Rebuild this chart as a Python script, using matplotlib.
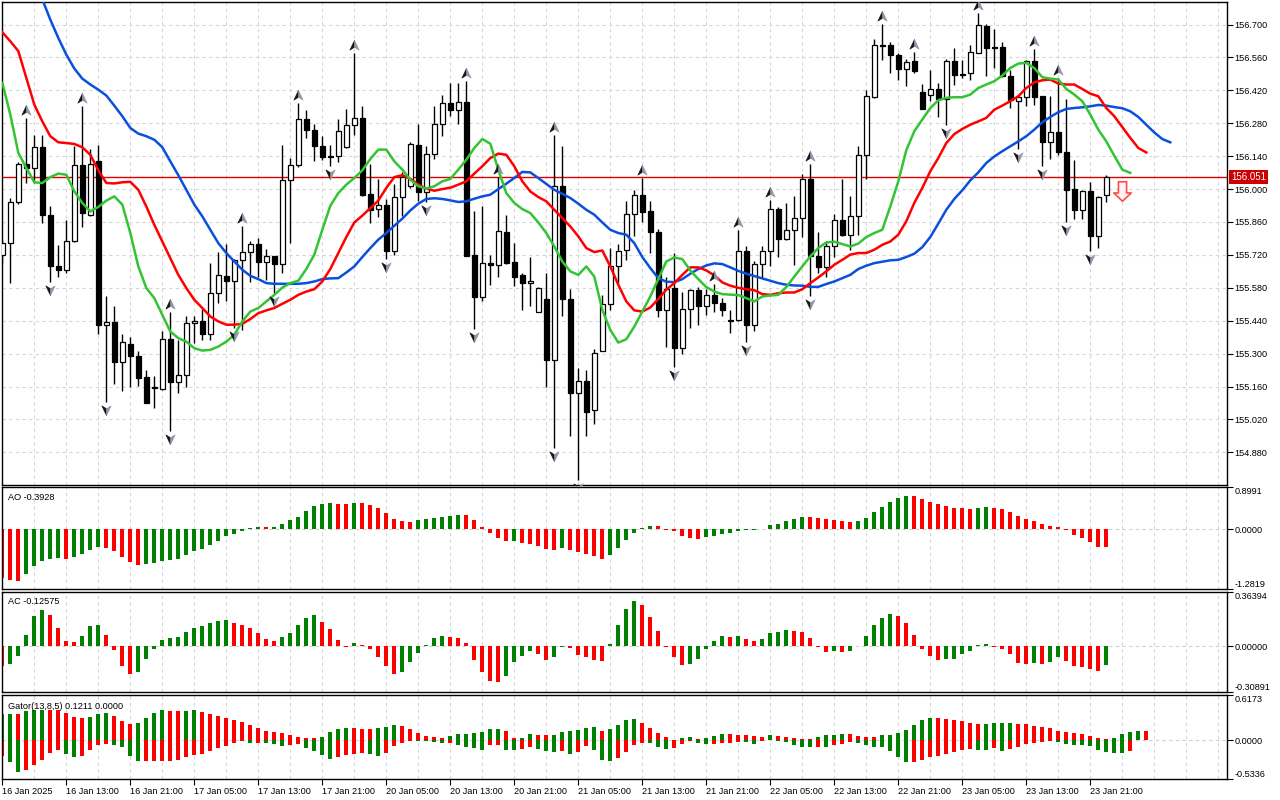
import numpy as np
import matplotlib
matplotlib.use("Agg")
import matplotlib.pyplot as plt
from matplotlib.path import Path
import matplotlib.transforms as mtransforms

# ---------------- data (H1 bars) ----------------
time_labels = ["16 Jan 2025", "16 Jan 13:00", "16 Jan 21:00", "17 Jan 05:00",
               "17 Jan 13:00", "17 Jan 21:00", "20 Jan 05:00", "20 Jan 13:00",
               "20 Jan 21:00", "21 Jan 05:00", "21 Jan 13:00", "21 Jan 21:00",
               "22 Jan 05:00", "22 Jan 13:00", "22 Jan 21:00", "23 Jan 05:00",
               "23 Jan 13:00", "23 Jan 21:00"]
label_bars = [0, 8, 16, 24, 32, 40, 48, 56, 64, 72, 80, 88, 96, 104, 112, 120, 128, 136]

opens = [155.721, 155.770, 155.945, 156.108, 156.090, 156.179, 155.891, 155.674, 155.657, 155.779,
         156.102, 155.891, 156.119, 155.423, 155.434, 155.264, 155.340, 155.290, 155.201, 155.157,
         155.151, 155.363, 155.178, 155.207, 155.430, 155.440, 155.383, 155.557, 155.631, 155.607,
         155.697, 155.732, 155.766, 155.688, 155.714, 155.681, 156.039, 156.101, 156.300, 156.253,
         156.185, 156.141, 156.142, 156.179, 156.273, 156.304, 155.980, 155.915, 155.932, 155.735,
         155.966, 156.012, 156.189, 155.986, 156.149, 156.277, 156.367, 156.335, 156.371, 155.721,
         155.539, 155.685, 155.675, 155.817, 155.689, 155.635, 155.600, 155.479, 155.532, 155.271,
         156.014, 155.532, 155.132, 155.184, 155.058, 155.313, 155.511, 155.671, 155.739, 155.894,
         155.976, 155.908, 155.817, 155.484, 155.579, 155.323, 155.489, 155.569, 155.501, 155.550,
         155.515, 155.442, 155.441, 155.738, 155.420, 155.681, 155.738, 155.915, 155.787, 155.827,
         155.877, 156.044, 155.716, 155.668, 155.759, 155.870, 155.806, 155.884, 156.146, 156.392,
         156.615, 156.611, 156.572, 156.511, 156.544, 156.413, 156.399, 156.426, 156.385, 156.544,
         156.490, 156.494, 156.579, 156.696, 156.605, 156.605, 156.483, 156.374, 156.392, 156.544,
         156.395, 156.200, 156.243, 156.158, 156.000, 155.909, 155.993, 155.799, 155.973]
highs = [155.785, 155.962, 156.114, 156.303, 156.232, 156.232, 155.929, 155.763, 155.870, 156.182,
         156.355, 156.171, 156.188, 155.546, 155.503, 155.383, 155.369, 155.312, 155.231, 155.205,
         155.397, 155.479, 155.359, 155.461, 155.458, 155.489, 155.685, 155.733, 155.766, 155.702,
         155.841, 155.780, 155.794, 155.746, 155.716, 156.188, 156.132, 156.367, 156.338, 156.277,
         156.225, 156.189, 156.300, 156.342, 156.577, 156.355, 156.108, 156.043, 155.958, 156.022,
         156.071, 156.199, 156.278, 156.182, 156.355, 156.402, 156.452, 156.452, 156.462, 155.908,
         155.926, 155.721, 156.051, 155.891, 155.770, 155.643, 155.711, 155.583, 155.643, 156.232,
         156.185, 155.574, 155.238, 155.231, 155.319, 155.550, 155.749, 155.766, 155.951, 155.997,
         156.047, 155.948, 155.830, 155.628, 155.728, 155.564, 155.574, 155.583, 155.574, 155.597,
         155.536, 155.486, 155.824, 155.759, 155.692, 155.756, 155.955, 155.924, 155.941, 155.972,
         156.066, 156.108, 155.817, 155.780, 155.894, 156.044, 155.969, 156.185, 156.420, 156.640,
         156.704, 156.625, 156.579, 156.555, 156.584, 156.449, 156.508, 156.452, 156.554, 156.601,
         156.551, 156.612, 156.750, 156.704, 156.682, 156.626, 156.508, 156.399, 156.551, 156.594,
         156.395, 156.395, 156.473, 156.383, 156.122, 155.997, 156.029, 155.969, 156.061]
lows = [155.685, 155.600, 155.938, 156.026, 156.026, 155.855, 155.603, 155.626, 155.643, 155.776,
        155.837, 155.887, 155.383, 155.096, 155.170, 155.139, 155.160, 155.163, 155.089, 155.068,
        155.146, 154.971, 155.134, 155.156, 155.344, 155.359, 155.356, 155.515, 155.522, 155.408,
        155.401, 155.603, 155.628, 155.614, 155.557, 155.645, 155.770, 156.094, 156.217, 156.118,
        156.122, 156.097, 156.114, 156.176, 156.232, 155.972, 155.855, 155.880, 155.702, 155.721,
        155.887, 156.005, 155.951, 155.943, 156.128, 156.225, 156.310, 156.277, 155.714, 155.406,
        155.522, 155.590, 155.628, 155.682, 155.586, 155.486, 155.503, 155.475, 155.156, 154.897,
        155.458, 154.950, 154.762, 154.950, 154.999, 155.309, 155.486, 155.600, 155.697, 155.802,
        155.862, 155.728, 155.455, 155.330, 155.245, 155.298, 155.411, 155.420, 155.465, 155.479,
        155.461, 155.387, 155.437, 155.349, 155.397, 155.621, 155.671, 155.711, 155.782, 155.678,
        155.796, 155.546, 155.645, 155.626, 155.711, 155.799, 155.742, 155.803, 156.044, 156.388,
        156.548, 156.494, 156.466, 156.437, 156.494, 156.341, 156.374, 156.307, 156.274, 156.442,
        156.473, 156.466, 156.577, 156.480, 156.515, 156.477, 156.345, 156.172, 156.355, 156.357,
        156.097, 156.128, 156.146, 155.858, 155.872, 155.872, 155.735, 155.749, 155.943]
closes = [155.770, 155.945, 156.108, 156.090, 156.179, 155.888, 155.671, 155.657, 155.779, 156.102,
          155.898, 156.105, 155.420, 155.434, 155.264, 155.349, 155.288, 155.198, 155.092, 155.154,
          155.363, 155.178, 155.210, 155.431, 155.440, 155.383, 155.557, 155.634, 155.607, 155.699,
          155.732, 155.766, 155.688, 155.714, 155.681, 156.037, 156.102, 156.300, 156.250, 156.182,
          156.135, 156.138, 156.247, 156.273, 156.304, 155.976, 155.912, 155.932, 155.735, 155.966,
          156.051, 156.192, 155.986, 156.149, 156.277, 156.367, 156.335, 156.371, 155.716, 155.539,
          155.685, 155.675, 155.823, 155.685, 155.628, 155.600, 155.610, 155.579, 155.271, 156.014,
          155.532, 155.132, 155.184, 155.053, 155.302, 155.511, 155.674, 155.735, 155.894, 155.976,
          155.902, 155.816, 155.484, 155.574, 155.323, 155.489, 155.572, 155.501, 155.550, 155.515,
          155.484, 155.440, 155.738, 155.420, 155.681, 155.738, 155.915, 155.787, 155.827, 155.877,
          156.044, 155.716, 155.668, 155.759, 155.870, 155.806, 155.884, 156.146, 156.395, 156.615,
          156.609, 156.570, 156.511, 156.541, 156.501, 156.342, 156.426, 156.385, 156.547, 156.484,
          156.486, 156.584, 156.700, 156.601, 156.601, 156.480, 156.381, 156.392, 156.544, 156.392,
          156.200, 156.243, 156.158, 155.995, 155.909, 155.993, 155.799, 155.966, 156.051]

# Alligator lines (already shifted forward, as drawn)
jaw_start = 4
jaw = [156.885, 156.807, 156.721, 156.643, 156.572, 156.513,
       156.470, 156.445, 156.423, 156.398, 156.355, 156.310, 156.260, 156.236, 156.225, 156.210,
       156.178, 156.118, 156.059, 155.997, 155.934, 155.884, 155.827, 155.770, 155.728, 155.692,
       155.657, 155.631, 155.617, 155.600, 155.597, 155.597, 155.597, 155.597, 155.600, 155.607,
       155.617, 155.620, 155.621, 155.645, 155.671, 155.711, 155.749, 155.785, 155.813, 155.844,
       155.874, 155.909, 155.938, 155.958, 155.961, 155.958, 155.952, 155.945, 155.948, 155.959,
       155.969, 155.976, 156.000, 156.023, 156.047, 156.073, 156.071, 156.047, 156.022, 155.997,
       155.980, 155.962, 155.938, 155.912, 155.891, 155.858, 155.827, 155.813, 155.806, 155.770,
       155.711, 155.664, 155.621, 155.606, 155.604, 155.617, 155.640, 155.660, 155.675, 155.684,
       155.681, 155.667, 155.652, 155.640, 155.630, 155.620, 155.610, 155.600, 155.593, 155.590,
       155.589, 155.584, 155.584, 155.596, 155.607, 155.621, 155.635, 155.660, 155.674, 155.685,
       155.691, 155.697, 155.699, 155.711, 155.725, 155.753, 155.796, 155.853, 155.912, 155.958,
       155.995, 156.037, 156.071, 156.111, 156.139, 156.161, 156.182, 156.203, 156.225, 156.253,
       156.284, 156.307, 156.327, 156.341, 156.345, 156.348, 156.352, 156.358, 156.355, 156.349,
       156.344, 156.331, 156.307, 156.274, 156.241, 156.213, 156.199]
teeth_start = 0
teeth = [156.667, 156.629, 156.587, 156.473, 156.359, 156.288, 156.225, 156.199, 156.196, 156.192,
         156.178, 156.146, 156.080, 156.026, 156.024, 156.029, 156.031, 155.997, 155.926, 155.848,
         155.777, 155.706, 155.635, 155.579, 155.529, 155.494, 155.458, 155.437, 155.423, 155.423,
         155.427, 155.447, 155.472, 155.484, 155.494, 155.512, 155.529, 155.550, 155.564, 155.574,
         155.607, 155.660, 155.728, 155.796, 155.858, 155.887, 155.919, 155.951, 156.005, 156.051,
         156.059, 156.044, 156.019, 156.002, 155.993, 156.000, 156.006, 156.019, 156.033, 156.066,
         156.097, 156.132, 156.151, 156.146, 156.097, 156.033, 155.990, 155.966, 155.948, 155.912,
         155.877, 155.841, 155.799, 155.749, 155.732, 155.739, 155.671, 155.593, 155.522, 155.484,
         155.479, 155.496, 155.532, 155.572, 155.600, 155.635, 155.667, 155.667, 155.654, 155.633,
         155.603, 155.589, 155.580, 155.574, 155.570, 155.553, 155.550, 155.557, 155.560, 155.560,
         155.574, 155.600, 155.624, 155.650, 155.678, 155.699, 155.721, 155.728, 155.728, 155.742,
         155.763, 155.777, 155.806, 155.863, 155.941, 156.005, 156.076, 156.132, 156.196, 156.234,
         156.256, 156.274, 156.288, 156.303, 156.338, 156.355, 156.374, 156.395, 156.430, 156.454,
         156.463, 156.466, 156.449, 156.445, 156.445, 156.426, 156.406, 156.395, 156.345, 156.310,
         156.264, 156.218, 156.175, 156.156]
lips_start = 0
lips = [156.452, 156.317, 156.154, 156.090, 156.029, 156.026, 156.051, 156.066, 156.061, 155.990,
        155.941, 155.905, 155.924, 155.951, 155.969, 155.934, 155.813, 155.671, 155.579, 155.536,
        155.465, 155.394, 155.366, 155.351, 155.323, 155.313, 155.316, 155.330, 155.351, 155.380,
        155.437, 155.479, 155.494, 155.522, 155.550, 155.581, 155.600, 155.610, 155.660, 155.721,
        155.827, 155.929, 155.983, 156.019, 156.047, 156.080, 156.128, 156.168, 156.168, 156.118,
        156.083, 156.040, 156.012, 156.002, 156.012, 156.033, 156.043, 156.083, 156.125, 156.175,
        156.213, 156.193, 156.083, 155.983, 155.941, 155.915, 155.898, 155.858, 155.813, 155.756,
        155.692, 155.650, 155.635, 155.671, 155.628, 155.486, 155.401, 155.347, 155.361, 155.415,
        155.479, 155.543, 155.617, 155.692, 155.709, 155.702, 155.654, 155.617, 155.583, 155.564,
        155.553, 155.551, 155.549, 155.536, 155.522, 155.543, 155.547, 155.550, 155.583, 155.628,
        155.671, 155.714, 155.749, 155.773, 155.776, 155.766, 155.756, 155.768, 155.796, 155.813,
        155.827, 155.926, 156.033, 156.165, 156.246, 156.296, 156.345, 156.378, 156.388, 156.391,
        156.391, 156.402, 156.430, 156.445, 156.459, 156.483, 156.515, 156.534, 156.537, 156.515,
        156.476, 156.470, 156.466, 156.426, 156.402, 156.374, 156.317, 156.253, 156.203, 156.142,
        156.083, 156.069]

fractal_up_bars = [3, 10, 21, 30, 37, 44, 58, 62, 69, 80, 89, 92, 96, 101, 110, 114, 122, 129, 132]
fractal_down_bars = [6, 13, 21, 29, 34, 41, 48, 53, 59, 69, 72, 84, 93, 101, 118, 127, 130, 133, 136]
sell_signal_bar = 140
sell_signal_price = 155.993
last_price = 156.051
price_ticks = [156.700, 156.560, 156.420, 156.280, 156.140, 156.000, 155.860,
               155.720, 155.580, 155.440, 155.300, 155.160, 155.020, 154.880]

ao = [-1.045, -1.094, -1.101, -0.967, -0.798, -0.692, -0.635, -0.621, -0.650, -0.607,
      -0.544, -0.438, -0.374, -0.395, -0.480, -0.607, -0.713, -0.777, -0.755, -0.734,
      -0.692, -0.671, -0.650, -0.565, -0.480, -0.417, -0.332, -0.247, -0.141, -0.099,
      -0.035, 0.014, 0.045, 0.040, 0.048, 0.106, 0.184, 0.261, 0.388, 0.494,
      0.530, 0.558, 0.537, 0.533, 0.560, 0.556, 0.515, 0.452, 0.346, 0.219,
      0.177, 0.155, 0.184, 0.205, 0.240, 0.261, 0.282, 0.311, 0.297, 0.184,
      0.049, -0.092, -0.198, -0.261, -0.254, -0.304, -0.311, -0.353, -0.431, -0.438,
      -0.395, -0.438, -0.501, -0.544, -0.586, -0.650, -0.565, -0.395, -0.226, -0.078,
      0.021, 0.071, 0.064, -0.014, -0.049, -0.141, -0.184, -0.205, -0.162, -0.141,
      -0.099, -0.078, -0.035, -0.025, -0.014, -0.005, 0.092, 0.113, 0.177, 0.219,
      0.268, 0.261, 0.240, 0.205, 0.198, 0.177, 0.155, 0.177, 0.240, 0.367,
      0.473, 0.579, 0.664, 0.706, 0.699, 0.642, 0.579, 0.537, 0.494, 0.455,
      0.448, 0.431, 0.452, 0.469, 0.452, 0.431, 0.367, 0.282, 0.219, 0.177,
      0.113, 0.071, 0.049, -0.014, -0.120, -0.184, -0.268, -0.374, -0.3928]
ac = [-0.132, -0.119, -0.066, 0.073, 0.205, 0.244, 0.211, 0.119, 0.033, 0.026,
      0.066, 0.132, 0.145, 0.073, -0.026, -0.132, -0.185, -0.172, -0.086, -0.020,
      0.040, 0.053, 0.059, 0.092, 0.125, 0.132, 0.158, 0.172, 0.178, 0.158,
      0.141, 0.119, 0.088, 0.046, 0.033, 0.059, 0.086, 0.141, 0.191, 0.211,
      0.165, 0.112, 0.040, -0.004, 0.020, 0.007, -0.018, -0.073, -0.132, -0.191,
      -0.172, -0.106, -0.046, 0.007, 0.053, 0.066, 0.064, 0.053, 0.020, -0.092,
      -0.172, -0.238, -0.244, -0.198, -0.106, -0.066, -0.033, -0.053, -0.092, -0.073,
      -0.004, -0.013, -0.059, -0.073, -0.092, -0.099, 0.013, 0.145, 0.251, 0.304,
      0.277, 0.198, 0.099, -0.007, -0.073, -0.125, -0.123, -0.086, -0.020, 0.033,
      0.066, 0.059, 0.066, 0.046, 0.033, 0.046, 0.086, 0.092, 0.106, 0.103,
      0.092, 0.053, -0.004, -0.040, -0.033, -0.040, -0.033, -0.002, 0.066, 0.139,
      0.191, 0.218, 0.205, 0.152, 0.073, -0.020, -0.066, -0.092, -0.090, -0.086,
      -0.053, -0.033, 0.007, 0.013, -0.004, -0.020, -0.053, -0.112, -0.119, -0.112,
      -0.119, -0.106, -0.073, -0.099, -0.132, -0.139, -0.152, -0.165, -0.12575]
gator_upper = [0.356, 0.358, 0.354, 0.398, 0.411, 0.416, 0.411, 0.407, 0.370, 0.315,
               0.302, 0.315, 0.356, 0.370, 0.329, 0.260, 0.219, 0.233, 0.302, 0.370,
               0.411, 0.402, 0.398, 0.402, 0.407, 0.384, 0.356, 0.329, 0.302, 0.274,
               0.247, 0.206, 0.165, 0.123, 0.110, 0.096, 0.069, 0.041, 0.027, 0.023,
               0.041, 0.110, 0.151, 0.169, 0.160, 0.155, 0.151, 0.165, 0.178, 0.206,
               0.192, 0.151, 0.096, 0.055, 0.041, 0.027, 0.055, 0.082, 0.087, 0.096,
               0.110, 0.151, 0.155, 0.123, 0.027, 0.032, 0.082, 0.069, 0.064, 0.069,
               0.110, 0.123, 0.137, 0.165, 0.174, 0.123, 0.151, 0.206, 0.274, 0.288,
               0.233, 0.165, 0.096, 0.041, 0.005, 0.027, 0.041, 0.014, 0.027, 0.055,
               0.082, 0.078, 0.073, 0.069, 0.055, 0.041, 0.069, 0.055, 0.041, 0.027,
               0.018, 0.014, 0.041, 0.069, 0.073, 0.082, 0.078, 0.055, 0.046, 0.041,
               0.069, 0.073, 0.096, 0.137, 0.206, 0.274, 0.306, 0.302, 0.288, 0.274,
               0.260, 0.233, 0.219, 0.224, 0.229, 0.233, 0.238, 0.219, 0.215, 0.192,
               0.178, 0.165, 0.123, 0.110, 0.096, 0.082, 0.055, 0.027, 0.009, 0.023,
               0.082, 0.105, 0.123, 0.1211]
gator_lower = [0.219, 0.302, 0.439, 0.411, 0.343, 0.274, 0.178, 0.137, 0.192, 0.233,
               0.219, 0.137, 0.069, 0.055, 0.064, 0.096, 0.219, 0.293, 0.288, 0.286,
               0.283, 0.281, 0.279, 0.233, 0.206, 0.192, 0.151, 0.110, 0.082, 0.041,
               0.014, 0.041, 0.037, 0.041, 0.055, 0.082, 0.069, 0.055, 0.110, 0.151,
               0.206, 0.260, 0.233, 0.206, 0.192, 0.178, 0.192, 0.219, 0.178, 0.082,
               0.041, 0.009, 0.014, 0.018, 0.027, 0.046, 0.037, 0.069, 0.101, 0.110,
               0.133, 0.069, 0.064, 0.133, 0.137, 0.119, 0.096, 0.119, 0.151, 0.165,
               0.151, 0.192, 0.165, 0.082, 0.137, 0.274, 0.288, 0.247, 0.165, 0.069,
               0.037, 0.041, 0.096, 0.123, 0.110, 0.055, 0.014, 0.041, 0.055, 0.050,
               0.041, 0.037, 0.027, 0.032, 0.055, 0.014, 0.005, 0.014, 0.027, 0.069,
               0.091, 0.096, 0.091, 0.101, 0.069, 0.055, 0.027, 0.041, 0.069, 0.091,
               0.101, 0.151, 0.233, 0.302, 0.297, 0.274, 0.233, 0.219, 0.192, 0.165,
               0.137, 0.123, 0.137, 0.142, 0.110, 0.151, 0.123, 0.096, 0.055, 0.037,
               0.023, 0.014, 0.023, 0.055, 0.064, 0.069, 0.082, 0.137, 0.160, 0.174,
               0.183, 0.146]

# scale limits shown on the right of each window
price_lim = (154.741, 156.796)
ao_lim = (-1.2819, 0.8991)
ac_lim = (-0.30891, 0.36394)
gator_lim = (-0.5336, 0.6173)

# ---------------- figure ----------------
plt.rcParams['font.family'] = ['Liberation Sans', 'DejaVu Sans']
FS = 6.6
W, H = 1280, 800
fig = plt.figure(figsize=(12.8, 8), dpi=100)
GREEN, RED = '#008000', '#ff0000'
GRID = '#d6d6d6'


def panel(top, bottom, left=2, right=1227):
    a = fig.add_axes([left / W, 1 - bottom / H, (right - left) / W, (bottom - top) / H])
    a.set_xlim(-0.04, 153.09)
    for s in a.spines.values():
        s.set_color('black')
        s.set_linewidth(1)
    a.yaxis.tick_right()
    a.tick_params(axis='y', direction='out', length=4, width=0.8, pad=1.5, labelsize=FS)
    a.tick_params(axis='x', bottom=False, labelbottom=False)
    for gx in range(4, 153, 4):
        a.axvline(gx, color=GRID, lw=0.8, ls=(0, (3, 3)), zorder=0)
    return a


def trend_colors(vals, first_up):
    v = np.asarray(vals)
    rising = np.r_[first_up, v[1:] > v[:-1]]
    return np.where(rising, GREEN, RED)


ax = panel(2, 485)
ao_ax = panel(487, 589)
ac_ax = panel(592, 692)
gt_ax = panel(695, 779)

# ---- main window ----
ax.set_ylim(*price_lim)
ax.set_yticks(price_ticks)
ax.set_yticklabels([f"{p:.3f}" for p in price_ticks])
for p in price_ticks:
    ax.axhline(p, color=GRID, lw=0.8, ls=(0, (3, 3)), zorder=0)

ax.axhline(last_price, color='#e00000', lw=1, zorder=2)

o, hi, lo, c = map(np.asarray, (opens, highs, lows, closes))
bx = np.arange(len(o))
bull = c >= o
ax.vlines(bx, lo, hi, color='black', lw=1, zorder=3)
ax.bar(bx, np.maximum(np.abs(c - o), 0.0005), bottom=np.minimum(o, c), width=0.64,
       color=np.where(bull, 'white', 'black'), edgecolor='black', linewidth=0.9, zorder=4)

ax.plot(np.arange(jaw_start, jaw_start + len(jaw)), jaw, color='#0a50dc', lw=1.8, zorder=5)
ax.plot(np.arange(teeth_start, teeth_start + len(teeth)), teeth, color='#ff0000', lw=1.8, zorder=5)
ax.plot(np.arange(lips_start, lips_start + len(lips)), lips, color='#33c433', lw=1.8, zorder=5)

# fractal arrows (dark left half, grey right half, like the terminal glyph)
code = [Path.MOVETO, Path.LINETO, Path.LINETO, Path.CLOSEPOLY]
up_l = Path([(0, 1), (-0.9, -0.9), (0, -0.35), (0, 1)], code)
up_r = Path([(0, 1), (0, -0.35), (0.9, -0.9), (0, 1)], code)
dn_l = Path([(0, -1), (-0.9, 0.9), (0, 0.35), (0, -1)], code)
dn_r = Path([(0, -1), (0, 0.35), (0.9, 0.9), (0, -1)], code)
t_up = mtransforms.offset_copy(ax.transData, fig=fig, x=0, y=8, units='dots')
t_dn = mtransforms.offset_copy(ax.transData, fig=fig, x=0, y=-8, units='dots')
fu = np.array(fractal_up_bars)
fd = np.array(fractal_down_bars)
for mk, col in ((up_l, '#141414'), (up_r, '#8e97aa')):
    ax.plot(fu, hi[fu], ls='none', marker=mk, ms=7.5, color=col, mew=0.4, transform=t_up, zorder=6)
for mk, col in ((dn_l, '#141414'), (dn_r, '#8e97aa')):
    ax.plot(fd, lo[fd], ls='none', marker=mk, ms=7.5, color=col, mew=0.4, transform=t_dn, zorder=6)

# sell signal arrow
sell = Path([(-0.42, 1), (0.42, 1), (0.42, -0.15), (0.9, -0.15), (0, -1), (-0.9, -0.15),
             (-0.42, -0.15), (-0.42, 1)],
            [Path.MOVETO] + [Path.LINETO] * 6 + [Path.CLOSEPOLY])
ax.plot([sell_signal_bar], [sell_signal_price], ls='none', marker=sell, ms=14,
        mfc='#fff4f4', mec='#ff4a4a', mew=1.2, zorder=6)

# last price tag
tag_tr = mtransforms.offset_copy(mtransforms.blended_transform_factory(ax.transAxes, ax.transData),
                                 fig=fig, x=4, y=0, units='dots')
ax.text(1.0, last_price, f"{last_price:.3f}", transform=tag_tr, ha='left', va='center',
        fontsize=FS + 0.4, color='white', clip_on=False, zorder=10,
        bbox=dict(boxstyle='square,pad=0.18', fc='#cc0000', ec='none'))


# ---- indicator windows ----
def scale_labels(a, lim, fmt):
    a.set_ylim(*lim)
    a.set_yticks([lim[0], 0, lim[1]])
    labs = a.set_yticklabels([fmt.format(lim[0]), fmt.format(0.0), fmt.format(lim[1])])
    labs[0].set_va('bottom')
    labs[2].set_va('top')
    a.axhline(0, color='#cfcfcf', lw=0.8, ls=(0, (3, 3)), zorder=0)


scale_labels(ao_ax, ao_lim, "{:.4f}")
ao_ax.bar(np.arange(len(ao)), ao, width=0.5, color=trend_colors(ao, False), zorder=2)
ao_ax.text(6 / 1225, 0.9, f"AO {ao[-1]:.4f}", transform=ao_ax.transAxes, fontsize=FS,
           ha='left', va='center')

scale_labels(ac_ax, ac_lim, "{:.5f}")
ac_ax.bar(np.arange(len(ac)), ac, width=0.5, color=trend_colors(ac, False), zorder=2)
ac_ax.text(6 / 1225, 0.9, f"AC {ac[-1]:.5f}", transform=ac_ax.transAxes, fontsize=FS,
           ha='left', va='center')

scale_labels(gt_ax, gator_lim, "{:.4f}")
gt_ax.bar(np.arange(len(gator_upper)), gator_upper, width=0.5,
          color=trend_colors(gator_upper, True), zorder=2)
gt_ax.bar(np.arange(len(gator_lower)), -np.asarray(gator_lower), width=0.5,
          color=trend_colors(gator_lower, False), zorder=2)
gt_ax.text(6 / 1225, 0.86, f"Gator(13,8,5) {gator_upper[-1]:.4f} 0.0000",
           transform=gt_ax.transAxes, fontsize=FS, ha='left', va='center')

# time axis
gt_ax.tick_params(axis='x', bottom=True, labelbottom=True, direction='out', length=4,
                  width=0.8, pad=2, labelsize=FS)
gt_ax.set_xticks(label_bars)
for t in gt_ax.set_xticklabels(time_labels):
    t.set_ha('left')

fig.savefig("out.png", dpi=100, facecolor='white')
